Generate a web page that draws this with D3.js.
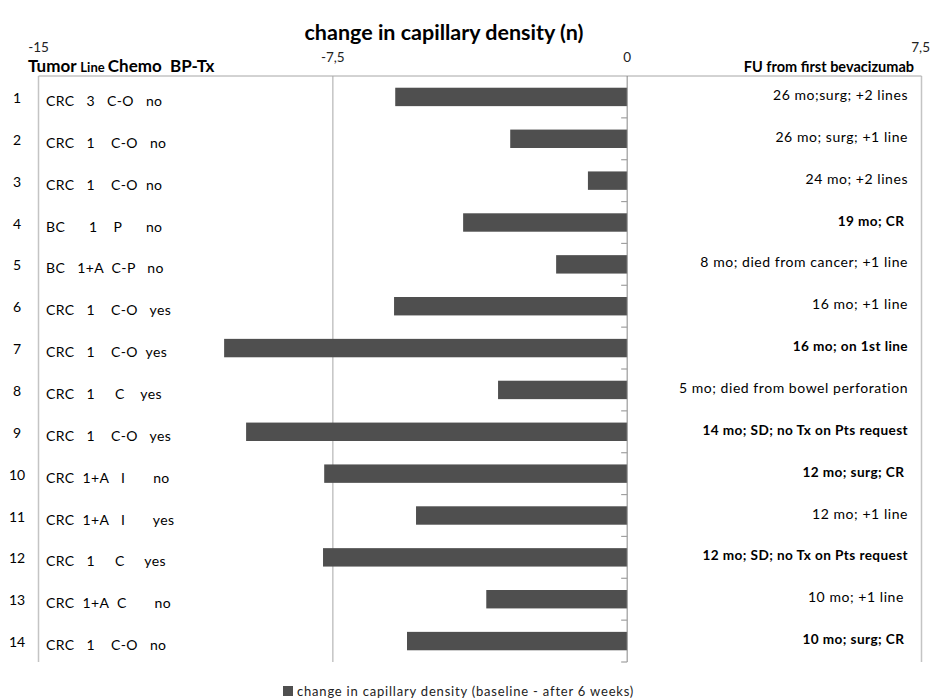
<!DOCTYPE html>
<html lang="en">
<head>
    <meta charset="UTF-8">
    <title>change in capillary density (n)</title>
    <script src="https://cdnjs.cloudflare.com/ajax/libs/d3/7.8.5/d3.min.js"></script>
    <style>
        body {
            margin: 0;
            background: #fff;
            font-family: 'Lato', 'Open Sans', sans-serif;
        }
        svg text {
            white-space: pre;
        }
    </style>
</head>
<body>
    <svg id="chart" width="931" height="700"></svg>

    <script>
        // patient rows, top to bottom
        const patients = [1, 2, 3, 4, 5, 6, 7, 8, 9, 10, 11, 12, 13, 14];

        // change in capillary density (baseline - after 6 weeks)
        const change = [-5.91, -2.98, -1.0, -4.18, -1.81, -5.94, -10.27, -3.29, -9.71, -7.72, -5.38, -7.75, -3.59, -5.61];

        // Tumor / Line / Chemo / BP-Tx, as typed in the original text boxes
        const profile = [
            "CRC   3   C-O   no",
            "CRC   1    C-O   no",
            "CRC   1    C-O  no",
            "BC      1    P      no",
            "BC   1+A  C-P   no",
            "CRC   1    C-O   yes",
            "CRC   1    C-O  yes",
            "CRC   1     C    yes",
            "CRC   1    C-O   yes",
            "CRC  1+A   I       no",
            "CRC  1+A   I       yes",
            "CRC   1     C     yes",
            "CRC  1+A  C       no",
            "CRC   1    C-O   no"
        ];

        // FU from first bevacizumab
        const followUp = [
            "26 mo;surg; +2 lines",
            "26 mo; surg; +1 line",
            "24 mo; +2 lines",
            "19 mo; CR ",
            "8 mo; died from cancer; +1 line",
            "16 mo; +1 line",
            "16 mo; on 1st line",
            "5 mo; died from bowel perforation",
            "14 mo; SD; no Tx on Pts request",
            "12 mo; surg; CR ",
            "12 mo; +1 line",
            "12 mo; SD; no Tx on Pts request",
            "10 mo; +1 line ",
            "10 mo; surg; CR "
        ];

        // rows whose follow-up is highlighted
        const highlighted = [4, 7, 9, 10, 12, 14];

        const xTicks = [-15, -7.5, 0, 7.5];

        const svg = d3.select("#chart");
        const plotTop = 76, plotBottom = 662, plotLeft = 38.5, plotRight = 921.5;

        const x = d3.scaleLinear().domain([-15, 7.5]).range([plotLeft, plotRight]);
        const y = d3.scaleBand().domain(patients).range([plotTop, plotBottom])
            .paddingInner(0.56).paddingOuter(0.28);
        const step = y.step();

        const rows = patients.map((p, i) => ({
            id: p,
            value: change[i],
            profile: profile[i],
            note: followUp[i],
            bold: highlighted.includes(p)
        }));

        // title
        svg.append("text")
            .attr("x", 444)
            .attr("y", 40)
            .attr("text-anchor", "middle")
            .attr("font-size", "21.5px")
            .attr("font-weight", "bold")
            .attr("fill", "#000")
            .text("change in capillary density (n)");

        // vertical gridlines (not the zero line)
        svg.append("g")
            .selectAll("line")
            .data(xTicks.filter(d => d !== 0))
            .enter().append("line")
            .attr("x1", d => x(d)).attr("x2", d => x(d))
            .attr("y1", plotTop).attr("y2", plotBottom)
            .attr("stroke", "#c4c4c4")
            .attr("stroke-width", 1.5);

        // top value axis line
        svg.append("line")
            .attr("x1", plotLeft).attr("x2", plotRight)
            .attr("y1", plotTop).attr("y2", plotTop)
            .attr("stroke", "#a6a6a6")
            .attr("stroke-width", 1);

        // bars
        svg.append("g")
            .selectAll("rect")
            .data(rows)
            .enter().append("rect")
            .attr("x", d => x(Math.min(0, d.value)))
            .attr("y", d => y(d.id))
            .attr("width", d => Math.abs(x(d.value) - x(0)))
            .attr("height", y.bandwidth())
            .attr("fill", "#4f4f4f");

        // category axis at zero, ticks between rows
        const boundaries = patients.map(p => y(p) - step * 0.28).concat([plotBottom]);
        svg.append("line")
            .attr("x1", x(0)).attr("x2", x(0))
            .attr("y1", plotTop).attr("y2", plotBottom)
            .attr("stroke", "#868686")
            .attr("stroke-width", 1);
        svg.append("g")
            .selectAll("line")
            .data(boundaries.slice(1))
            .enter().append("line")
            .attr("x1", x(0) - 6).attr("x2", x(0))
            .attr("y1", d => d).attr("y2", d => d)
            .attr("stroke", "#a0a0a0")
            .attr("stroke-width", 1.2);

        // value tick labels on top
        const fmt = d => String(d).replace(".", ",");
        const last = xTicks.length - 1;
        svg.append("g")
            .selectAll("text")
            .data(xTicks)
            .enter().append("text")
            .attr("x", (d, i) => i === last ? 930 : x(d))
            .attr("y", (d, i) => (i === 0 || i === last) ? 52 : 62)
            .attr("text-anchor", (d, i) => i === last ? "end" : "middle")
            .attr("font-size", "13.5px")
            .attr("fill", "#222")
            .text(fmt);

        // column headers
        const header = svg.append("text")
            .attr("x", 28)
            .attr("y", 72)
            .attr("font-weight", "bold")
            .attr("font-size", "17px")
            .attr("fill", "#000");
        header.append("tspan").text("Tumor ");
        header.append("tspan").attr("font-size", "13px").text("Line ");
        header.append("tspan").text("Chemo  BP-Tx");

        svg.append("text")
            .attr("x", 914)
            .attr("y", 72)
            .attr("text-anchor", "end")
            .attr("font-weight", "bold")
            .attr("font-size", "14.5px")
            .attr("fill", "#000")
            .text("FU from first bevacizumab");

        const mid = d => y(d.id) + y.bandwidth() / 2;

        // row numbers
        svg.append("g")
            .selectAll("text")
            .data(rows)
            .enter().append("text")
            .attr("x", 17)
            .attr("y", d => mid(d) + 6)
            .attr("text-anchor", "middle")
            .attr("font-size", "14px")
            .attr("fill", "#000")
            .text(d => d.id);

        // patient profile
        svg.append("g")
            .selectAll("text")
            .data(rows)
            .enter().append("text")
            .attr("x", 46)
            .attr("y", d => mid(d) + 9)
            .attr("font-size", "14px")
            .attr("letter-spacing", "0.4px")
            .attr("fill", "#000")
            .text(d => d.profile);

        // follow-up notes
        svg.append("g")
            .selectAll("text")
            .data(rows)
            .enter().append("text")
            .attr("x", 908)
            .attr("y", d => mid(d) + 3)
            .attr("text-anchor", "end")
            .attr("font-size", d => d.bold ? "13.6px" : "14px")
            .attr("letter-spacing", d => d.bold ? "0.4px" : "0.55px")
            .attr("font-weight", d => d.bold ? "bold" : "normal")
            .attr("fill", "#000")
            .text(d => d.note);

        // legend
        const legend = svg.append("g").attr("transform", "translate(283, 686)");
        legend.append("rect")
            .attr("width", 10).attr("height", 10)
            .attr("fill", "#4f4f4f");
        legend.append("text")
            .attr("x", 14)
            .attr("y", 9.5)
            .attr("font-size", "13px")
            .attr("letter-spacing", "0.8px")
            .attr("fill", "#222")
            .text("change in capillary density (baseline - after 6 weeks)");
    </script>
</body>
</html>
